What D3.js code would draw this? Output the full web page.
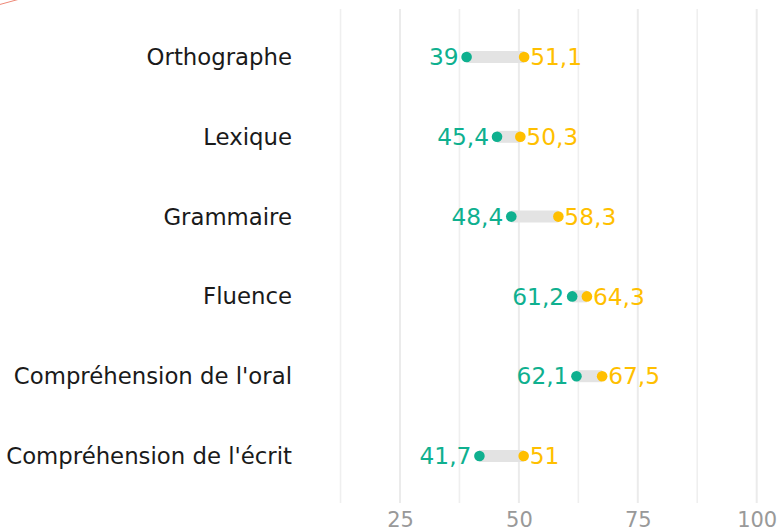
<!DOCTYPE html>
<html><head><meta charset="utf-8">
<script src="https://cdn.jsdelivr.net/npm/d3@7"></script>
<style>html,body{margin:0;padding:0;background:#fff;}svg{display:block;font-family:"DejaVu Sans",sans-serif;}</style>
</head><body>
<svg id="chart" width="780" height="531"></svg>
<script>
const categories = ["Orthographe","Lexique","Grammaire","Fluence","Compréhension de l'oral","Compréhension de l'écrit"];
const valuesA = [39, 45.4, 48.4, 61.2, 62.1, 41.7];
const valuesB = [51.1, 50.3, 58.3, 64.3, 67.5, 51];
const majorTicks = [25, 50, 75, 100];
const minorTicks = [12.5, 37.5, 62.5, 87.5];

const colA = "#0fb08f", colB = "#ffbf00";
const svg = d3.select("#chart");
const x = d3.scaleLinear().domain([25, 100]).range([400, 756.7]);
const y = d3.scalePoint().domain(categories).range([57, 456]);
const panelTop = 9, panelBottom = 503;

// decorative stroke top-left
svg.append("line").attr("x1", -2).attr("y1", 5).attr("x2", 18).attr("y2", -0.5)
  .attr("stroke", "#ee8877").attr("stroke-width", 1);

const g = svg.append("g");
g.selectAll(".minor").data(minorTicks).join("line")
  .attr("x1", d => x(d)).attr("x2", d => x(d)).attr("y1", panelTop).attr("y2", panelBottom)
  .attr("stroke", "#efefef").attr("stroke-width", 1.6);
g.selectAll(".major").data(majorTicks).join("line")
  .attr("x1", d => x(d)).attr("x2", d => x(d)).attr("y1", panelTop).attr("y2", panelBottom)
  .attr("stroke", "#ebebeb").attr("stroke-width", 2);

const axis = d3.axisBottom(x).tickValues(majorTicks).tickSize(0).tickPadding(0);
const ax = svg.append("g").attr("transform", `translate(0,${panelBottom})`).call(axis);
ax.select(".domain").remove();
ax.selectAll("text").attr("fill", "#999").attr("font-size", 21).attr("font-family", "DejaVu Sans").attr("dy", "1.0em").attr("y", 3);

const fmt = v => String(v).replace(".", ",");
const rows = categories.map((c, i) => ({c, a: valuesA[i], b: valuesB[i]}));

svg.selectAll(".cat").data(rows).join("text")
  .attr("x", 292).attr("y", d => y(d.c)).attr("dy", "0.35em")
  .attr("text-anchor", "end").attr("font-size", 22.8).attr("fill", "#1a1a1a")
  .text(d => d.c);

svg.selectAll(".seg").data(rows).join("line")
  .attr("x1", d => x(d.a)).attr("x2", d => x(d.b))
  .attr("y1", d => y(d.c)).attr("y2", d => y(d.c))
  .attr("stroke", "#e3e3e3").attr("stroke-width", 12);

svg.selectAll(".dA").data(rows).join("circle")
  .attr("cx", d => x(d.a)).attr("cy", d => y(d.c)).attr("r", 5.3).attr("fill", colA);
svg.selectAll(".dB").data(rows).join("circle")
  .attr("cx", d => x(d.b)).attr("cy", d => y(d.c)).attr("r", 5.3).attr("fill", colB);

svg.selectAll(".lA").data(rows).join("text")
  .attr("x", d => x(d.a) - 8).attr("y", d => y(d.c)).attr("dy", "0.35em")
  .attr("text-anchor", "end").attr("font-size", 23.3).attr("fill", colA)
  .text(d => fmt(d.a));
svg.selectAll(".lB").data(rows).join("text")
  .attr("x", d => x(d.b) + 6).attr("y", d => y(d.c)).attr("dy", "0.35em")
  .attr("text-anchor", "start").attr("font-size", 23.3).attr("fill", colB)
  .text(d => fmt(d.b));
</script>
</body></html>
